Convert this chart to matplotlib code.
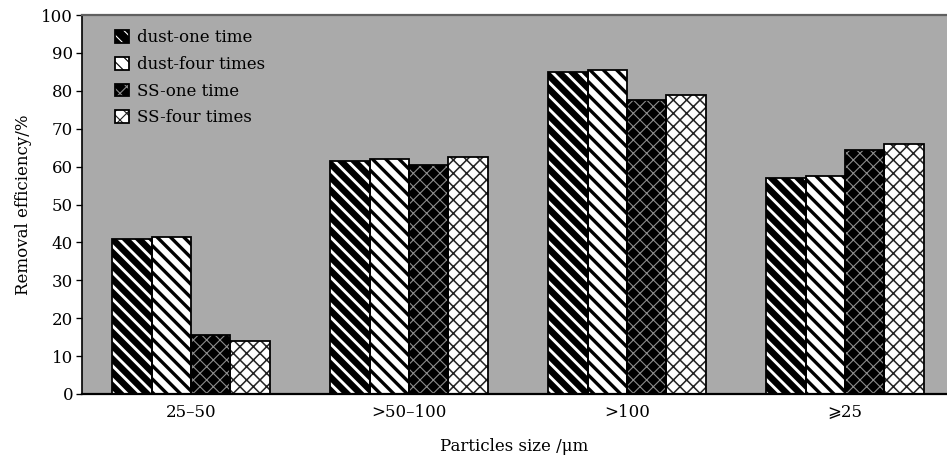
import numpy as np
import matplotlib as mpl
import matplotlib.pyplot as plt
from matplotlib.patches import Patch

mpl.use('Agg')

# data
categories = ['25–50', '>50–100', '>100', '⩾25']
series = ['dust-one time', 'dust-four times', 'SS-one time', 'SS-four times']
dust_one = [41.0, 61.5, 85.0, 57.0]
dust_four = [41.5, 62.0, 85.5, 57.5]
ss_one = [15.5, 60.5, 77.5, 64.5]
ss_four = [14.0, 62.5, 79.0, 66.0]

values = [dust_one, dust_four, ss_one, ss_four]

# face colour, hatch colour, hatch pattern, hatch linewidth
styles = [
    ('black', 'white', '\\\\', 2.6),
    ('white', 'black', '\\\\', 3.0),
    ('black', '#8c8c8c', 'xx', 1.0),
    ('white', '#222222', 'xx', 1.4),
]

plt.rcParams['font.family'] = ['DejaVu Serif', 'DejaVu Sans']

DPI = 80
fig = plt.figure(figsize=(947 / DPI, 459 / DPI), dpi=DPI)
ax = fig.add_axes([82 / 947, 1 - 394 / 459, 1 - 82 / 947, (394 - 15) / 459])
ax.set_facecolor('#aaaaaa')

x = np.arange(len(categories))
width = 0.181
handles = []
for i, (vals, (fc, hc, hatch, hlw)) in enumerate(zip(values, styles)):
    pos = x + (i - 1.5) * width
    with mpl.rc_context({'hatch.linewidth': hlw}):
        bars = ax.bar(pos, vals, width, facecolor=fc, edgecolor=hc,
                      hatch=hatch, linewidth=0, zorder=2)
        for b in bars:
            if hasattr(b, 'set_hatch_linewidth'):
                b.set_hatch_linewidth(hlw)
        p1 = Patch(facecolor=fc, edgecolor=hc, hatch=hatch, linewidth=0)
        if hasattr(p1, 'set_hatch_linewidth'):
            p1.set_hatch_linewidth(hlw)
    ax.bar(pos, vals, width, fill=False, edgecolor='black', linewidth=1.6,
           zorder=3)
    p2 = Patch(fill=False, edgecolor='black', linewidth=1.6)
    handles.append((p1, p2))

ax.set_xlim(-0.5, 3.468)
ax.set_ylim(0, 100)
ax.set_yticks(np.arange(0, 101, 10))
ax.set_xticks(x)
ax.set_xticklabels(categories)
ax.tick_params(axis='x', length=0, pad=9, labelsize=15)
ax.tick_params(axis='y', direction='out', length=5, width=1.2, labelsize=15, pad=3)

ax.spines['right'].set_visible(False)
ax.spines['top'].set_color('#606060')
ax.spines['top'].set_linewidth(2)
ax.spines['left'].set_linewidth(1.5)
ax.spines['bottom'].set_linewidth(2)

ax.set_xlabel('Particles size /μm', fontsize=15, labelpad=15)
ax.set_ylabel('Removal efficiency/%', fontsize=15, labelpad=8)

ax.legend(handles, series, loc='upper left', bbox_to_anchor=(0.038, 0.962),
          frameon=False, fontsize=15, handlelength=0.85, handleheight=0.8,
          handletextpad=0.45, labelspacing=0.58, borderpad=0, borderaxespad=0)

fig.savefig('out.png', dpi=DPI)
